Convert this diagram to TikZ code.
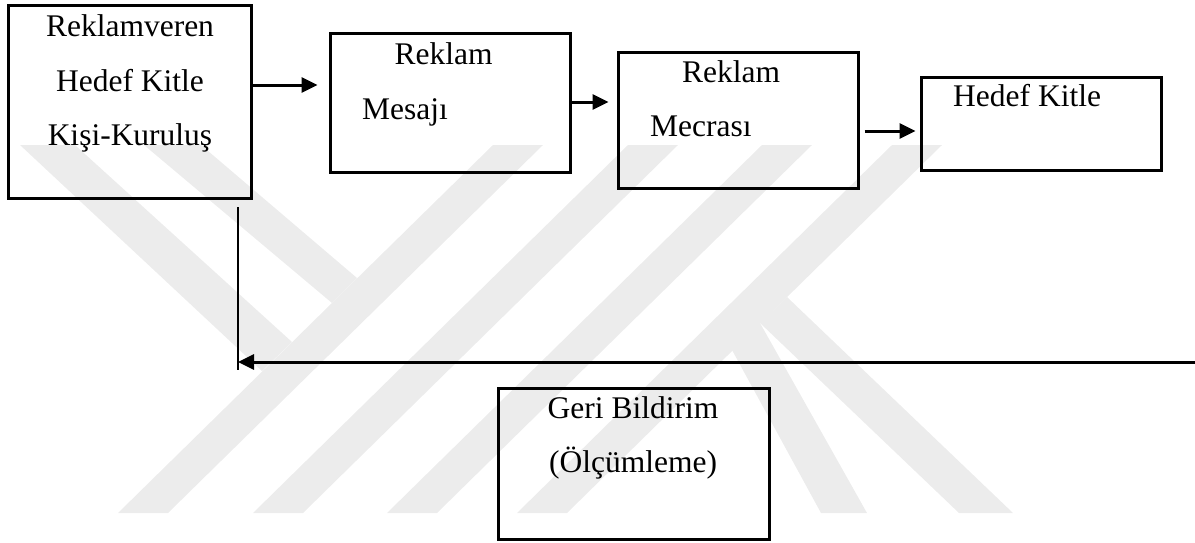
\documentclass[tikz,border=0pt]{standalone}
\usepackage{fontspec}
\setmainfont{Liberation Serif}
\usetikzlibrary{arrows.meta}
\definecolor{wmgray}{RGB}{236,236,236}

\begin{document}
\begin{tikzpicture}[x=1pt,y=1pt,
    box/.style={draw=black,line width=3pt,rectangle,minimum width=240pt},
    lbl/.style={font=\fontsize{31.5}{38}\selectfont,anchor=base},
    arr/.style={line width=3pt,-{Triangle[length=16pt,width=15pt]}}]
    \tikzstyle{every node}+=[inner sep=0pt]
    \useasboundingbox (0,0) rectangle (1195,-542);
    % watermark
    \fill[wmgray] (493,-145) -- (543,-145) -- (168,-513) -- (118,-513) -- cycle;
    \fill[wmgray] (628,-145) -- (678,-145) -- (303,-513) -- (253,-513) -- cycle;
    \fill[wmgray] (762,-145) -- (812,-145) -- (437,-513) -- (387,-513) -- cycle;
    \fill[wmgray] (892,-145) -- (942,-145) -- (567,-513) -- (517,-513) -- cycle;
    \fill[wmgray] (20,-145) -- (75,-145) -- (292,-342) -- (262,-371) -- cycle;
    \fill[wmgray] (144,-145) -- (201,-145) -- (357,-278) -- (332,-303) -- cycle;
    \fill[wmgray] (787,-297) -- (1013,-513) -- (959,-513) -- (760,-323) -- cycle;
    \fill[wmgray] (760,-323) -- (867,-513) -- (821,-513) -- (732,-350) -- cycle;
    % boxes
    \node[box,minimum width=243pt,minimum height=193pt] (reklamveren) at (129.5,-101.5) {};
    \node[box,minimum height=139pt] (mesaj) at (450,-102.5) {};
    \node[box,minimum height=136pt] (mecra) at (738,-120) {};
    \node[box,minimum height=93pt] (hedef) at (1041,-123.5) {};
    \node[box,minimum width=271pt,minimum height=151pt] (geri) at (633.5,-463.5) {};
    % texts
    \node[lbl] (reklamveren1) at (130,-36) {Reklamveren};
    \node[lbl] (reklamveren2) at (130,-91) {Hedef Kitle};
    \node[lbl] (reklamveren3) at (130,-145) {Kişi-Kuruluş};
    \node[lbl] (mesaj1) at (443.5,-64) {Reklam};
    \node[lbl,anchor=base west] (mesaj2) at (362,-119) {Mesajı};
    \node[lbl] (mecra1) at (731,-82) {Reklam};
    \node[lbl,anchor=base west] (mecra2) at (650,-136) {Mecrası};
    \node[lbl,anchor=base west] (hedef1) at (953,-106) {Hedef Kitle};
    \node[lbl] (geri1) at (633,-418) {Geri Bildirim};
    \node[lbl] (geri2) at (633,-472) {(Ölçümleme)};
    % arrows
    \draw[arr,shorten >=11pt] (reklamveren.east |- 0,-85) -- (mesaj.west |- 0,-85);
    \draw[arr,shorten >=8pt] (mesaj.east |- 0,-102) -- (mecra.west |- 0,-102);
    \draw[arr,shorten <=5pt,shorten >=4pt] (mecra.east |- 0,-131) -- (hedef.west |- 0,-131);
    % feedback
    \coordinate (fbright) at (1195,-362);
    \coordinate (fbtop) at (238,-207);
    \coordinate (fbbot) at (238,-370);
    \draw[line width=1.8pt] (fbtop) -- (fbbot);
    \draw[arr] (fbright) -- (fbtop |- fbright);
\end{tikzpicture}
\end{document}
